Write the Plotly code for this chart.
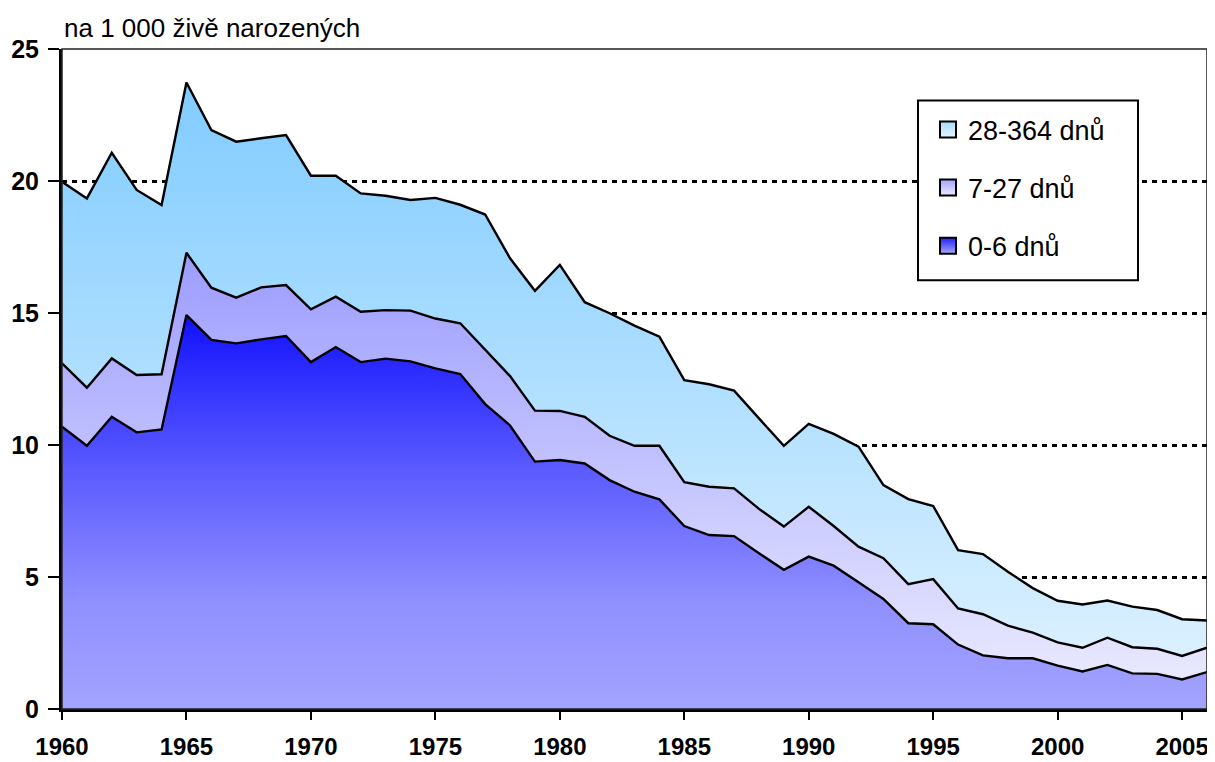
import numpy as np
import plotly.graph_objects as go

years = list(range(1960, 2007))
d0_6 = [10.69, 9.97, 11.07, 10.48, 10.59, 14.92, 13.98, 13.85, 14.00, 14.13,
        13.14, 13.71, 13.14, 13.27, 13.17, 12.90, 12.69, 11.55, 10.74, 9.37,
        9.43, 9.30, 8.67, 8.23, 7.94, 6.93, 6.59, 6.55, 5.90, 5.27,
        5.77, 5.43, 4.80, 4.17, 3.25, 3.21, 2.44, 2.03, 1.92, 1.92,
        1.64, 1.42, 1.67, 1.35, 1.33, 1.12, 1.40]
d7_27 = [2.40, 2.20, 2.21, 2.17, 2.09, 2.36, 1.98, 1.73, 1.97, 1.93,
         2.00, 1.91, 1.91, 1.84, 1.92, 1.89, 1.92, 2.05, 1.87, 1.93,
         1.86, 1.77, 1.68, 1.74, 2.03, 1.66, 1.83, 1.81, 1.68, 1.64,
         1.89, 1.50, 1.35, 1.54, 1.48, 1.71, 1.37, 1.56, 1.24, 0.97,
         0.88, 0.90, 1.03, 0.99, 0.95, 0.89, 0.92]
d28_364 = [6.88, 7.17, 7.79, 7.01, 6.41, 6.45, 5.97, 5.91, 5.65, 5.68,
           5.06, 4.58, 4.48, 4.33, 4.19, 4.57, 4.49, 5.13, 4.46, 4.54,
           5.53, 4.34, 4.64, 4.55, 4.13, 3.87, 3.88, 3.70, 3.43, 3.06,
           3.14, 3.49, 3.79, 2.77, 3.22, 2.77, 2.21, 2.28, 2.04, 1.69,
           1.58, 1.64, 1.41, 1.54, 1.47, 1.39, 1.03]
names = ["0-6 dnů", "7-27 dnů", "28-364 dnů"]
y_title = "na 1 000 živě narozených"
x_ticks = list(range(1960, 2006, 5))
y_ticks = [0, 5, 10, 15, 20, 25]

c1 = np.array(d0_6)
c2 = c1 + np.array(d7_27)
c3 = c2 + np.array(d28_364)

FONT = "Liberation Sans, Arial, sans-serif"

grad_bottom = [[0.0, "#A3A3FF"], [0.27, "#9090FF"], [0.6, "#5C5CFF"],
               [0.87, "#2A2AFF"], [1.0, "#0F0FFF"]]
grad_mid = [[0.0, "#E9E9FF"], [1.0, "#9C9CFF"]]
grad_top = [[0.0, "#DBF0FF"], [1.0, "#80CCFF"]]

LW = 2.4
fig = go.Figure()
fig.add_trace(go.Scatter(
    x=years, y=d0_6, stackgroup="s", mode="lines", name=names[0],
    line=dict(color="black", width=LW),
    fillgradient=dict(type="vertical", colorscale=grad_bottom,
                      start=0, stop=float(c1.max())),
    showlegend=False, hoverinfo="skip"))
fig.add_trace(go.Scatter(
    x=years, y=d7_27, stackgroup="s", mode="lines", name=names[1],
    line=dict(color="black", width=LW),
    fillgradient=dict(type="vertical", colorscale=grad_mid,
                      start=float(c1.min()), stop=float(c2.max())),
    showlegend=False, hoverinfo="skip"))
fig.add_trace(go.Scatter(
    x=years, y=d28_364, stackgroup="s", mode="lines", name=names[2],
    line=dict(color="black", width=LW),
    fillgradient=dict(type="vertical", colorscale=grad_top,
                      start=float(c2.min()), stop=float(c3.max())),
    showlegend=False, hoverinfo="skip"))

# legend entries
leg = [(names[2], "#A8DCFF", "#E2F4FF"),
       (names[1], "#A4A4FF", "#EAEAFF"),
       (names[0], "#2020FF", "#A8A8FF")]
for i, (nm, ctop, cbot) in enumerate(leg):
    fig.add_trace(go.Scatter(
        x=[None], y=[None], mode="markers", name=nm,
        legendgroup=f"g{i}", legendrank=i + 1,
        marker=dict(symbol="square", size=16, color=ctop,
                    line=dict(color="black", width=2),
                    gradient=dict(type="vertical", color=cbot))))

# page body has an 8px margin; target plot box in window pixels
OFF = 8
PL, PR, PT, PB = 62, 1207, 48.5, 709     # plot box in window coords
W, H = 1215 - OFF, 762 - OFF
L = PL - OFF
T = PT - OFF
R = W - (PR - OFF)
B = H - (PB - OFF)
pw, ph = PR - PL, PB - PT


def px(xw):
    return (xw - PL) / pw


def py(yw):
    return (PB - yw) / ph


fig.update_layout(
    width=W, height=H,
    margin=dict(l=L, r=R, t=T, b=B, pad=0, autoexpand=False),
    paper_bgcolor="white", plot_bgcolor="white",
    font=dict(family=FONT, color="black"),
    hovermode=False,
    xaxis=dict(range=[1960, 2006], tickvals=x_ticks, ticks="outside",
               ticklen=8, tickwidth=2, tickcolor="black",
               showline=True, linewidth=3, linecolor="black",
               showgrid=False, zeroline=False, ticklabelstandoff=6,
               tickfont=dict(family=FONT, size=24, color="black",
                             weight="bold")),
    yaxis=dict(range=[0, 25], tickvals=y_ticks, ticks="outside",
               ticklen=11, tickwidth=2, tickcolor="black",
               showline=True, linewidth=3, linecolor="black",
               showgrid=True, gridcolor="black", gridwidth=3,
               griddash="5px,5px", zeroline=False, ticklabelstandoff=4,
               tickfont=dict(family=FONT, size=25, color="black",
                             weight="bold")),
    legend=dict(x=px(928), y=py(105), xanchor="left", yanchor="top",
                bgcolor="rgba(0,0,0,0)", borderwidth=0,
                font=dict(family=FONT, size=27, color="black"),
                tracegroupgap=20, itemclick=False, itemdoubleclick=False),
    shapes=[
        dict(type="rect", xref="paper", yref="paper", x0=0, x1=1, y0=0, y1=1,
             line=dict(color="#222222", width=1.5), layer="above"),
        dict(type="rect", xref="paper", yref="paper",
             x0=px(918), x1=px(1138), y0=py(280), y1=py(100),
             line=dict(color="black", width=2), fillcolor="white",
             layer="above"),
    ],
    annotations=[
        dict(text=y_title, xref="paper", yref="paper", x=0, y=py(27),
             xanchor="left", yanchor="middle", showarrow=False,
             font=dict(family=FONT, size=26, color="black")),
    ],
)

fig.write_html("out.html")
